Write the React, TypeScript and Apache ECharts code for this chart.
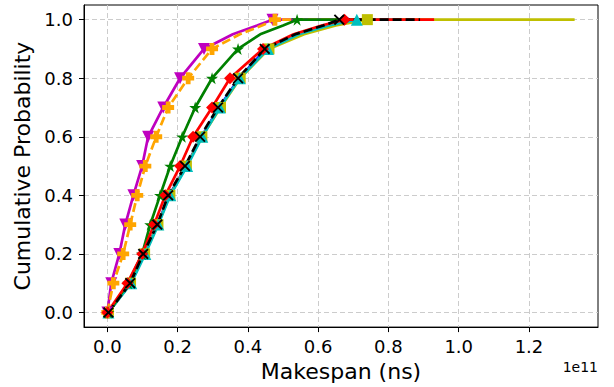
import React, { useEffect, useRef } from "react";
import * as echarts from "echarts";

// Cumulative probability levels (last entry = tail end of each CDF)
const probs = [0, 0.1, 0.2, 0.3, 0.4, 0.5, 0.6, 0.7, 0.8, 0.9, 0.95, 0.98, 1.0, 1.0];
const markerAt = [true, true, true, true, true, true, true, true, true, true, false, false, true, false];

// Makespan values in units of 1e11 ns
const blueX = [0.003, 0.066, 0.105, 0.143, 0.176, 0.224, 0.268, 0.318, 0.375, 0.452, 0.54, 0.625, 0.68, 0.7];
const yellowX = [0.003, 0.066, 0.106, 0.144, 0.178, 0.225, 0.269, 0.322, 0.378, 0.46, 0.56, 0.65, 0.74, 1.33];
const cyanX = [0.003, 0.068, 0.108, 0.145, 0.179, 0.227, 0.27, 0.32, 0.377, 0.457, 0.545, 0.63, 0.71, 0.82];
const magentaX = [0, 0.011, 0.034, 0.051, 0.074, 0.099, 0.116, 0.159, 0.207, 0.275, 0.357, 0.426, 0.47, 0.75];
const orangeX = [0, 0.017, 0.045, 0.065, 0.085, 0.108, 0.139, 0.173, 0.23, 0.298, 0.377, 0.44, 0.477, 0.75];
const greenX = [0.003, 0.06, 0.099, 0.122, 0.15, 0.179, 0.213, 0.25, 0.298, 0.372, 0.435, 0.5, 0.54, 0.7];
const redX = [0, 0.057, 0.099, 0.133, 0.165, 0.207, 0.244, 0.298, 0.349, 0.443, 0.53, 0.61, 0.675, 0.93];
const blackX = [0.003, 0.065, 0.102, 0.142, 0.173, 0.221, 0.264, 0.315, 0.372, 0.448, 0.535, 0.615, 0.66, 0.89];

const xTicks = [0, 0.2, 0.4, 0.6, 0.8, 1.0, 1.2];
const yTicks = [0, 0.2, 0.4, 0.6, 0.8, 1.0];

const SYM = {
  tri_down: "path://M0,0 L10,0 L5,9 Z",
  tri_up: "path://M5,0 L10,9 L0,9 Z",
  plus: "path://M3,0 H7 V3 H10 V7 H7 V10 H3 V7 H0 V3 H3 Z",
  star: "path://M50,0 L61,35 L98,35 L68,57 L79,91 L50,70 L21,91 L32,57 L2,35 L39,35 Z",
  diamond: "path://M5,0 L10,5 L5,10 L0,5 Z",
  cross: "path://M0,1.2 L1.2,0 L5,3.8 L8.8,0 L10,1.2 L6.2,5 L10,8.8 L8.8,10 L5,6.2 L1.2,10 L0,8.8 L3.8,5 Z",
  square: "rect",
  circle: "circle",
};

const FONT = "DejaVu Sans";

export default function App() {
  const ref = useRef<HTMLDivElement>(null);
  useEffect(() => {
    const chart = echarts.init(ref.current!, null, { renderer: "svg" });
    const mk = (
      name: string,
      xs: number[],
      color: string,
      symbol: string,
      size: number,
      dashed: boolean
    ) => ({
      name,
      type: "line",
      data: xs.map((x, i) => ({
        value: [x, probs[i]],
        symbol: markerAt[i] ? symbol : "none",
      })),
      symbol,
      symbolSize: size,
      showAllSymbol: true,
      lineStyle: { color, width: 2.7, type: dashed ? [9, 4] : "solid" },
      itemStyle: { color, borderWidth: 0 },
      emphasis: { disabled: true },
    });
    chart.setOption({
      animation: false,
      grid: {
        left: 84,
        right: 16,
        top: 5,
        bottom: 58,
        show: true,
        borderColor: "#000",
        borderWidth: 1,
        backgroundColor: "#fff",
      },
      xAxis: {
        type: "value",
        min: -0.0665,
        max: 1.3965,
        name: "Makespan (ns)",
        nameLocation: "middle",
        nameGap: 32,
        nameTextStyle: { fontFamily: FONT, fontSize: 22, color: "#000" },
        axisLine: { show: true, onZero: false, lineStyle: { color: "#000", width: 1 } },
        axisTick: { show: true, inside: false, length: 5, customValues: xTicks, lineStyle: { color: "#000" } },
        axisLabel: {
          customValues: xTicks,
          margin: 10,
          fontFamily: FONT,
          fontSize: 18,
          color: "#000",
          formatter: (v: number) => v.toFixed(1),
        },
        splitLine: { show: true, lineStyle: { color: "#cccccc", type: [5, 3], width: 1 } },
      },
      yAxis: {
        type: "value",
        min: -0.05,
        max: 1.05,
        name: "Cumulative Probability",
        nameLocation: "middle",
        nameGap: 43,
        nameTextStyle: { fontFamily: FONT, fontSize: 22, color: "#000" },
        axisLine: { show: true, onZero: false, lineStyle: { color: "#000", width: 1 } },
        axisTick: { show: true, inside: false, length: 5, customValues: yTicks, lineStyle: { color: "#000" } },
        axisLabel: {
          customValues: yTicks,
          margin: 11,
          fontFamily: FONT,
          fontSize: 18,
          color: "#000",
          formatter: (v: number) => v.toFixed(1),
        },
        splitLine: { show: true, lineStyle: { color: "#cccccc", type: [5, 3], width: 1 } },
      },
      graphic: [
        {
          type: "text",
          right: 16,
          top: 360,
          style: { text: "1e11", fontFamily: FONT, fontSize: 14, fill: "#000" },
        },
      ],
      series: [
        mk("blue", blueX, "#0000ff", SYM.circle, 6, false),
        mk("yellow", yellowX, "#bfbf00", SYM.square, 11, false),
        mk("cyan", cyanX, "#00bfbf", SYM.tri_up, 12, false),
        mk("magenta", magentaX, "#bf00bf", SYM.tri_down, 12, false),
        mk("orange", orangeX, "#ffa500", SYM.plus, 12, true),
        mk("green", greenX, "#008000", SYM.star, 12, false),
        mk("red", redX, "#ff0000", SYM.diamond, 12, false),
        mk("black", blackX, "#000000", SYM.cross, 11, true),
      ],
    });
    return () => chart.dispose();
  }, []);
  return <div ref={ref} style={{ width: 614, height: 387, position: "absolute", left: 0, top: 0 }} />;
}
